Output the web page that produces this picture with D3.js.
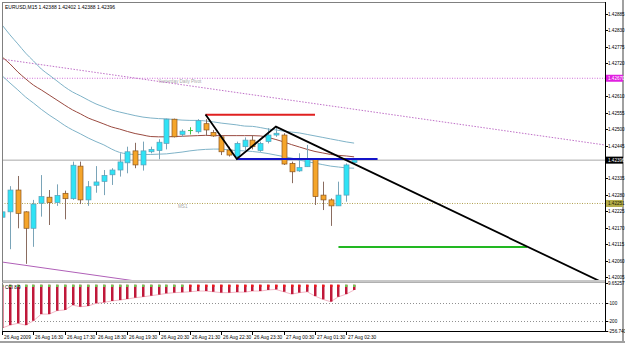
<!DOCTYPE html>
<html><head><meta charset="utf-8">
<script src="https://cdn.jsdelivr.net/npm/d3@7"></script>
<style>body{margin:0;background:#fff}svg{display:block}</style>
</head><body>
<svg id="c" width="625" height="343"></svg>
<script>
const titleText = "EURUSD,M15  1.42388 1.42402 1.42388 1.42396";
const opens  = [1.42205,1.42223,1.42296,1.42223,1.42168,1.42252,1.42272,1.42254,1.42285,1.42267,1.42376,1.42263,1.42312,1.42325,1.42347,1.42363,1.42387,1.42427,1.42380,1.42424,1.42428,1.42452,1.42533,1.42482,1.42495,1.42491,1.42518,1.42489,1.42474,1.42430,1.42408,1.42441,1.42463,1.42428,1.42458,1.42480,1.42480,1.42385,1.42360,1.42374,1.42399,1.42279,1.42263,1.42243,1.42279,1.42388];
const highs  = [1.42386,1.42309,1.42343,1.42225,1.42263,1.42346,1.42296,1.42315,1.42294,1.42391,1.42391,1.42326,1.42376,1.42363,1.42369,1.42419,1.42441,1.42454,1.42458,1.42441,1.42466,1.42535,1.42535,1.42499,1.42506,1.42533,1.42533,1.42497,1.42480,1.42441,1.42458,1.42472,1.42480,1.42458,1.42503,1.42508,1.42486,1.42391,1.42419,1.42447,1.42402,1.42324,1.42268,1.42324,1.42385,1.42402];
const lows   = [1.42152,1.42098,1.42168,1.42049,1.42106,1.42207,1.42179,1.42243,1.42198,1.42263,1.42249,1.42243,1.42287,1.42279,1.42313,1.42341,1.42352,1.42369,1.42361,1.42419,1.42399,1.42432,1.42472,1.42474,1.42482,1.42485,1.42477,1.42474,1.42413,1.42408,1.42400,1.42430,1.42432,1.42424,1.42452,1.42474,1.42380,1.42319,1.42357,1.42374,1.42246,1.42229,1.42176,1.42243,1.42257,1.42388];
const closes = [1.42223,1.42296,1.42218,1.42168,1.42249,1.42274,1.42254,1.42278,1.42267,1.42379,1.42263,1.42307,1.42323,1.42345,1.42363,1.42390,1.42424,1.42380,1.42427,1.42432,1.42456,1.42533,1.42474,1.42493,1.42495,1.42528,1.42497,1.42477,1.42424,1.42413,1.42452,1.42463,1.42441,1.42452,1.42480,1.42486,1.42383,1.42357,1.42371,1.42399,1.42274,1.42263,1.42243,1.42279,1.42380,1.42396];

const bandUpper  = [1.42848,1.42815,1.42785,1.42754,1.42728,1.42701,1.42681,1.42661,1.42641,1.42624,1.42611,1.42597,1.42584,1.42574,1.42564,1.42557,1.42551,1.42545,1.42540,1.42537,1.42535,1.42534,1.42532,1.42530,1.42529,1.42529,1.42527,1.42524,1.42520,1.42517,1.42514,1.42510,1.42509,1.42505,1.42500,1.42497,1.42493,1.42490,1.42487,1.42482,1.42477,1.42472,1.42467,1.42462,1.42457,1.42453];
const bandMiddle = [1.42741,1.42718,1.42691,1.42668,1.42647,1.42631,1.42614,1.42597,1.42580,1.42564,1.42551,1.42537,1.42527,1.42517,1.42507,1.42500,1.42492,1.42485,1.42480,1.42475,1.42474,1.42474,1.42475,1.42476,1.42477,1.42478,1.42479,1.42478,1.42478,1.42478,1.42478,1.42478,1.42478,1.42477,1.42472,1.42465,1.42457,1.42448,1.42440,1.42432,1.42425,1.42420,1.42415,1.42412,1.42410,1.42407];
const bandLower  = [1.42678,1.42654,1.42631,1.42607,1.42587,1.42566,1.42547,1.42530,1.42512,1.42497,1.42484,1.42470,1.42458,1.42447,1.42433,1.42422,1.42417,1.42415,1.42415,1.42415,1.42416,1.42417,1.42420,1.42423,1.42427,1.42430,1.42432,1.42433,1.42433,1.42430,1.42428,1.42427,1.42425,1.42422,1.42418,1.42413,1.42408,1.42403,1.42396,1.42391,1.42386,1.42381,1.42376,1.42373,1.42370,1.42369];

const cciValues = [-240,-224,-214,-224,-200,-163,-163,-144,-140,-113,-122,-118,-103,-98,-90,-85,-79,-72,-67,-61,-55,-48,-44,-42,-39,-35,-35,-39,-44,-44,-41,-41,-35,-35,-29,-26,-39,-52,-44,-39,-63,-81,-94,-67,-52,-29];
const cciCapUp  = [1,1,1,1,1,1,1,1,1,1,1,1,1,1,1,1,1,1,1,1,1,1,1,1,0,0,0,0,0,0,0,0,0,0,0,0,0,0,0,0,0,0,0,0,1,1];

const timeLabelBars = [0,4,8,12,16,20,24,28,32,36,40,44];
const timeLabels = ["26 Aug 2009","26 Aug 16:30","26 Aug 17:30","26 Aug 18:30","26 Aug 19:30","26 Aug 20:30","26 Aug 21:30","26 Aug 22:30","26 Aug 23:30","27 Aug 00:30","27 Aug 01:30","27 Aug 02:30"];
const priceTicks = [1.42885,1.42830,1.42775,1.42720,1.42665,1.42610,1.42555,1.42500,1.42445,1.42390,1.42335,1.42280,1.42225,1.42170,1.42115,1.42060,1.42005];
const cciTicks = [9.65257,-100,-200,-256.740];
const cciTickLabels = ["9.65257","-100","-200","-256.740"];
const cciLevels = [-100,-200];

const pivotPrice = 1.42670, pivotLabel = "Yesterday Daily Pivot";
const ms1Price = 1.42251, ms1Label = "MS1";
const bidPrice = 1.42396;
// trend lines: [bar, price] endpoints
const channelUpper = [[0,1.42734],[77,1.42447]];
const channelLower = [[0,1.42055],[77,1.41769]];
const zigzag = [[26,1.42549],[30,1.42400],[35,1.42508],[76.5,1.41990]];
const redLevel = [[26,1.42548],[40,1.42548]];
const blueLevel = [[30,1.42400],[48,1.42400]];
const greenLevel = [[43,1.42105],[67.1,1.42105]];

const svg = d3.select("#c");
const FONT = "Liberation Sans, Arial, sans-serif";
const L = 2, R = 605, T = 2, MB = 280, CT = 283, CB = 331;

const x = d3.scaleLinear().domain([0,45]).range([2.2,354.1]);
const y = d3.scaleLinear().domain([1.42005,1.42885]).range([277,14]);
const yc = d3.scaleLinear().domain([-256.74,9.65257]).range([CB,CT]);

svg.append("rect").attr("x",0).attr("y",0).attr("width",625).attr("height",343).attr("fill","#fff");

const defs = svg.append("defs");
defs.append("clipPath").attr("id","mainclip").append("rect").attr("x",L).attr("y",T).attr("width",R-L).attr("height",MB-T);
defs.append("clipPath").attr("id","cciclip").append("rect").attr("x",L).attr("y",CT).attr("width",R-L).attr("height",CB-CT);

const main = svg.append("g").attr("clip-path","url(#mainclip)");

// horizontal levels
main.append("line").attr("x1",L).attr("x2",R).attr("y1",y(bidPrice)).attr("y2",y(bidPrice)).attr("stroke","#a8a8a8").attr("stroke-width",1);
main.append("line").attr("x1",L).attr("x2",R).attr("y1",y(pivotPrice)).attr("y2",y(pivotPrice)).attr("stroke","#d070d8").attr("stroke-width",1).attr("stroke-dasharray","1,1.5");
main.append("line").attr("x1",L).attr("x2",R).attr("y1",y(ms1Price)).attr("y2",y(ms1Price)).attr("stroke","#b0a050").attr("stroke-width",1).attr("stroke-dasharray","1,1.5");
main.append("text").attr("x",158).attr("y",y(pivotPrice)+5).text(pivotLabel).attr("font-family",FONT).attr("font-size",4.6).attr("fill","#a8a8a8");
main.append("text").attr("x",178).attr("y",y(ms1Price)+5).text(ms1Label).attr("font-family",FONT).attr("font-size",4.6).attr("fill","#a8a8a8");

const seg = d3.line().x(d=>x(d[0])).y(d=>y(d[1]));
main.append("path").attr("d",seg(channelUpper)).attr("fill","none").attr("stroke","#c070c8").attr("stroke-width",1).attr("stroke-dasharray","1.5,1.5");
main.append("path").attr("d",seg(channelLower)).attr("fill","none").attr("stroke","#b060b8").attr("stroke-width",1);

// bands
const bl = arr => d3.line().x((d,i)=>x(i)).y(d=>y(d)).curve(d3.curveMonotoneX)(arr);
main.append("path").attr("d",bl(bandUpper)).attr("fill","none").attr("stroke","#7fb3c8").attr("stroke-width",1);
main.append("path").attr("d",bl(bandLower)).attr("fill","none").attr("stroke","#7fb3c8").attr("stroke-width",1);
main.append("path").attr("d",bl(bandMiddle)).attr("fill","none").attr("stroke","#9a4a40").attr("stroke-width",1);

// candles
const idx = d3.range(opens.length);
const cg = main.append("g");
idx.forEach(i=>{
  const o=opens[i], h=highs[i], l=lows[i], c=closes[i];
  const cx = Math.round(x(i))+0.5;
  const up = c>o, doji = c===o;
  const wick = doji ? "#40c040" : (up ? "#7aa4b8" : "#8a6c60");
  cg.append("line").attr("x1",cx).attr("x2",cx).attr("y1",y(h)).attr("y2",y(l)).attr("stroke",wick).attr("stroke-width",1);
  if (doji) {
    cg.append("line").attr("x1",cx-2.5).attr("x2",cx+2.5).attr("y1",y(o)).attr("y2",y(o)).attr("stroke","#40c040").attr("stroke-width",1);
  } else {
    const top = y(Math.max(o,c)), bot = y(Math.min(o,c));
    cg.append("rect").attr("x",cx-2.5).attr("y",top).attr("width",5).attr("height",Math.max(1,bot-top))
      .attr("fill", up ? "#2fe3f5" : "#f5a52a").attr("stroke", up ? "#5a9fb8" : "#8a5520").attr("stroke-width",0.7);
  }
});

// drawn lines
main.append("path").attr("d",seg(redLevel)).attr("stroke","#e02020").attr("stroke-width",2).attr("fill","none");
main.append("path").attr("d",seg(blueLevel)).attr("stroke","#1414c8").attr("stroke-width",2).attr("fill","none");
main.append("path").attr("d",seg(greenLevel)).attr("stroke","#22b822").attr("stroke-width",2).attr("fill","none");
main.append("path").attr("d",seg(zigzag)).attr("stroke","#000").attr("stroke-width",1.8).attr("fill","none");

// title
svg.append("text").attr("x",5).attr("y",9).text(titleText).attr("font-family",FONT).attr("font-size",5).attr("fill","#000");

// CCI panel
const cci = svg.append("g").attr("clip-path","url(#cciclip)");
cciLevels.forEach(v=>{
  cci.append("line").attr("x1",L).attr("x2",R).attr("y1",Math.round(yc(v))+0.5).attr("y2",Math.round(yc(v))+0.5).attr("stroke","#909090").attr("stroke-width",1).attr("stroke-dasharray","1,2");
});
cci.append("path").attr("d",d3.line().x((d,i)=>x(i)).y(d=>yc(d))(cciValues)).attr("fill","none").attr("stroke","#f2b8c6").attr("stroke-width",1);
idx.forEach(i=>{
  const cx = Math.round(x(i));
  const y0 = yc(0), y1 = yc(cciValues[i]);
  cci.append("rect").attr("x",cx-1).attr("y",y0).attr("width",2.5).attr("height",y1-y0).attr("fill","#c0183a");
  cci.append("rect").attr("x",cx-1).attr("y",y0).attr("width",2.5).attr("height",2.2).attr("fill",cciCapUp[i]?"#6ccc50":"#ee1818");
});
svg.append("text").attr("x",5).attr("y",289).text("CCI  8.9").attr("font-family",FONT).attr("font-size",4.6).attr("fill","#000");

// frames
svg.append("rect").attr("x",L+0.5).attr("y",T+0.5).attr("width",R-L).attr("height",CB-T).attr("fill","none").attr("stroke","#808080").attr("stroke-width",1);
svg.append("line").attr("x1",L).attr("x2",R).attr("y1",MB+1).attr("y2",MB+1).attr("stroke","#909090").attr("stroke-width",1);
svg.append("line").attr("x1",L).attr("x2",R).attr("y1",MB+2.5).attr("y2",MB+2.5).attr("stroke","#b0b0b0").attr("stroke-width",1);
svg.append("line").attr("x1",R+0.5).attr("x2",R+0.5).attr("y1",T).attr("y2",CB+1).attr("stroke","#000").attr("stroke-width",1);
svg.append("line").attr("x1",L).attr("x2",R).attr("y1",CB+0.5).attr("y2",CB+0.5).attr("stroke","#000").attr("stroke-width",1);
svg.append("line").attr("x1",623).attr("x2",623).attr("y1",0).attr("y2",343).attr("stroke","#a0a0a0").attr("stroke-width",2);
svg.append("line").attr("x1",0).attr("x2",625).attr("y1",342).attr("y2",342).attr("stroke","#a0a0a0").attr("stroke-width",2);

// price axis
const boxed = [pivotPrice,bidPrice,ms1Price];
const pa = svg.append("g");
priceTicks.forEach(p=>{
  const yy = Math.round(y(p))+0.5;
  pa.append("line").attr("x1",R).attr("x2",R+3).attr("y1",yy).attr("y2",yy).attr("stroke","#000");
  const hidden = boxed.some(b=>Math.abs(y(b)-y(p))<5.5);
  if (!hidden) pa.append("text").attr("x",608).attr("y",yy+1.7).text(p.toFixed(5)).attr("font-family",FONT).attr("font-size",4.6).attr("fill","#000");
});
function box(p, fill, tc){
  const yy = y(p);
  pa.append("rect").attr("x",606).attr("y",yy-3.5).attr("width",17).attr("height",7).attr("fill",fill);
  pa.append("text").attr("x",608).attr("y",yy+1.7).text(p.toFixed(5)).attr("font-family",FONT).attr("font-size",4.6).attr("fill",tc);
}
box(pivotPrice,"#e020e0","#ffffff");
box(bidPrice,"#000000","#ffffff");
box(ms1Price,"#b5ad4a","#202000");

cciTicks.forEach((v,k)=>{
  const yy = Math.round(yc(v))+0.5;
  pa.append("line").attr("x1",R).attr("x2",R+3).attr("y1",yy).attr("y2",yy).attr("stroke","#000");
  pa.append("text").attr("x",608).attr("y",yy+1.7).text(cciTickLabels[k]).attr("font-family",FONT).attr("font-size",4.6).attr("fill","#000");
});

// time axis
const ta = svg.append("g");
timeLabelBars.forEach((b,k)=>{
  const xx = Math.round(x(b))+0.5;
  ta.append("line").attr("x1",xx).attr("x2",xx).attr("y1",CB).attr("y2",CB+4).attr("stroke","#000");
  ta.append("text").attr("x",xx+1.5).attr("y",338.5).text(timeLabels[k]).attr("font-family",FONT).attr("font-size",4.8).attr("fill","#000");
});
</script>
</body></html>
